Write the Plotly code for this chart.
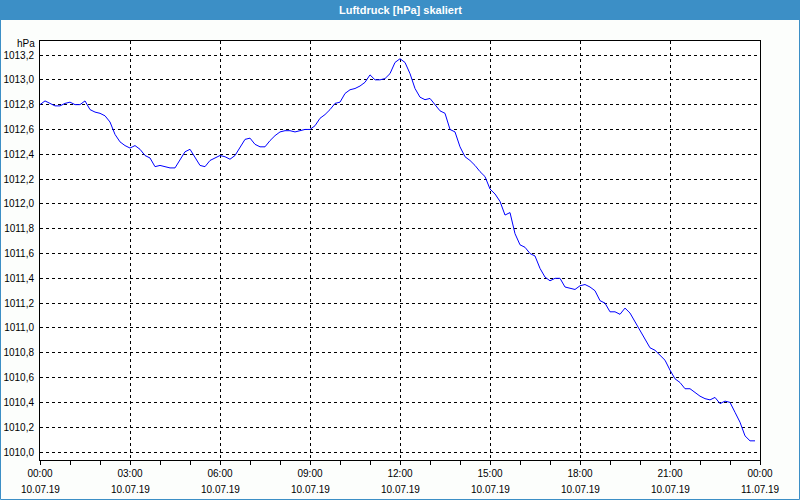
import plotly.graph_objects as go
from datetime import datetime, timedelta

# ---- data ----
START = "2019-07-10 00:00"
STEP_MIN = 10
PRESSURE = [
    1012.80, 1012.83, 1012.81, 1012.79, 1012.79, 1012.81, 1012.82, 1012.80, 1012.80, 1012.83,
    1012.76, 1012.74, 1012.73, 1012.71, 1012.66, 1012.56, 1012.50, 1012.47, 1012.45, 1012.47,
    1012.44, 1012.39, 1012.37, 1012.30, 1012.31, 1012.30, 1012.29, 1012.29, 1012.35, 1012.42,
    1012.44, 1012.37, 1012.31, 1012.30, 1012.35, 1012.37, 1012.39, 1012.38, 1012.36, 1012.39,
    1012.45, 1012.52, 1012.53, 1012.48, 1012.46, 1012.46, 1012.51, 1012.55, 1012.58, 1012.59,
    1012.59, 1012.58, 1012.59, 1012.60, 1012.60, 1012.63, 1012.69, 1012.72, 1012.76, 1012.81,
    1012.82, 1012.89, 1012.92, 1012.93, 1012.95, 1012.98, 1013.04, 1013.00, 1013.00, 1013.01,
    1013.05, 1013.14, 1013.17, 1013.14, 1013.05, 1012.93, 1012.86, 1012.84, 1012.85, 1012.80,
    1012.75, 1012.73, 1012.60, 1012.58, 1012.46, 1012.38, 1012.35, 1012.31, 1012.26, 1012.22,
    1012.12, 1012.08, 1012.02, 1011.91, 1011.93, 1011.76, 1011.67, 1011.65, 1011.60, 1011.58,
    1011.48, 1011.41, 1011.38, 1011.40, 1011.40, 1011.33, 1011.32, 1011.31, 1011.34, 1011.35,
    1011.33, 1011.30, 1011.22, 1011.20, 1011.13, 1011.13, 1011.11, 1011.16, 1011.12, 1011.05,
    1010.99, 1010.91, 1010.84, 1010.82, 1010.78, 1010.74, 1010.66, 1010.59, 1010.56, 1010.51,
    1010.51, 1010.48, 1010.45, 1010.43, 1010.42, 1010.44, 1010.39, 1010.41, 1010.40, 1010.32,
    1010.24, 1010.13, 1010.09, 1010.09,
]
X_TICKS = ["2019-07-10 00:00", "2019-07-10 03:00", "2019-07-10 06:00", "2019-07-10 09:00",
           "2019-07-10 12:00", "2019-07-10 15:00", "2019-07-10 18:00", "2019-07-10 21:00",
           "2019-07-11 00:00"]
X_TIME_LABELS = ["00:00", "03:00", "06:00", "09:00", "12:00", "15:00", "18:00", "21:00", "00:00"]
X_DATE_LABELS = ["10.07.19"] * 8 + ["11.07.19"]
Y_TICKS = [1010.0, 1010.2, 1010.4, 1010.6, 1010.8, 1011.0, 1011.2, 1011.4, 1011.6, 1011.8,
           1012.0, 1012.2, 1012.4, 1012.6, 1012.8, 1013.0, 1013.2]
Y_TICK_LABELS = ["1010,0", "1010,2", "1010,4", "1010,6", "1010,8", "1011,0", "1011,2", "1011,4",
                 "1011,6", "1011,8", "1012,0", "1012,2", "1012,4", "1012,6", "1012,8", "1013,0",
                 "1013,2"]
TITLE = "Luftdruck [hPa] skaliert"
UNIT = "hPa"

t0 = datetime.strptime(START, "%Y-%m-%d %H:%M")
times = [t0 + timedelta(minutes=STEP_MIN * i) for i in range(len(PRESSURE))]

# ---- layout geometry (pixels) ----
W, H = 800, 500
L, R, T, B = 40, 40, 41, 40
PW, PH = W - L - R, H - T - B
BLUE = "#3c8fc6"
FONT = "Liberation Sans"
FS = 10


def px_x(px):
    return (px - L) / PW


def px_y(py):
    return (H - B - py) / PH


fig = go.Figure()
fig.add_trace(go.Scatter(x=times, y=PRESSURE, mode="lines",
                         line=dict(color="#0000ff", width=1), hoverinfo="skip",
                         showlegend=False))

fig.update_layout(
    width=W, height=H,
    margin=dict(l=L, r=R, t=T, b=B, pad=0, autoexpand=False),
    paper_bgcolor="#fcfefc", plot_bgcolor="#ffffff",
    font=dict(family=FONT, size=FS, color="#000000"),
    showlegend=False,
)

fig.update_xaxes(
    type="date", automargin=False,
    range=["2019-07-10 00:00", "2019-07-11 00:00"],
    tickvals=X_TICKS, ticktext=X_TIME_LABELS,
    ticks="outside", ticklen=4, tickcolor="#000000", tickwidth=1,
    showline=True, linecolor="#000000", linewidth=1, mirror=True,
    showgrid=True, gridcolor="#000000", gridwidth=1, griddash="3px,3px",
    minor=dict(ticks="outside", ticklen=4, tickcolor="#000000",
               dtick=3600000, tick0="2019-07-10 00:00", showgrid=False),
    zeroline=False, fixedrange=True,
)
fig.update_yaxes(
    automargin=False,
    range=[1009.9355, 1013.313],
    tickvals=Y_TICKS, ticktext=Y_TICK_LABELS,
    ticks="", ticklabelstandoff=3,
    showline=True, linecolor="#000000", linewidth=1, mirror=True,
    showgrid=True, gridcolor="#000000", gridwidth=1, griddash="3px,3px",
    zeroline=False, fixedrange=True,
)

annotations = []
for xv, d in zip(X_TICKS, X_DATE_LABELS):
    annotations.append(dict(x=xv, xref="x", y=px_y(489), yref="paper", text=d,
                            showarrow=False, xanchor="center", yanchor="middle",
                            font=dict(family=FONT, size=FS, color="#000000")))
annotations.append(dict(x=px_x(37), xref="paper", y=px_y(43.5), yref="paper", text=UNIT,
                        showarrow=False, xanchor="right", yanchor="middle",
                        font=dict(family=FONT, size=FS, color="#000000")))
annotations.append(dict(x=px_x(400), xref="paper", y=px_y(10), yref="paper",
                        text="<b>" + TITLE + "</b>", showarrow=False,
                        xanchor="center", yanchor="middle",
                        font=dict(family=FONT, size=11, color="#ffffff")))
fig.update_layout(annotations=annotations)

fig.update_layout(shapes=[
    dict(type="rect", xref="paper", yref="paper", layer="below",
         x0=px_x(0), x1=px_x(800), y0=px_y(20), y1=px_y(0),
         fillcolor=BLUE, line=dict(width=0)),
    dict(type="rect", xref="paper", yref="paper", layer="above",
         x0=px_x(0.5), x1=px_x(799.5), y0=px_y(499.5), y1=px_y(0.5),
         fillcolor="rgba(0,0,0,0)", line=dict(color=BLUE, width=1)),
])

fig.write_html("out.html", config={"displayModeBar": False, "staticPlot": True})
